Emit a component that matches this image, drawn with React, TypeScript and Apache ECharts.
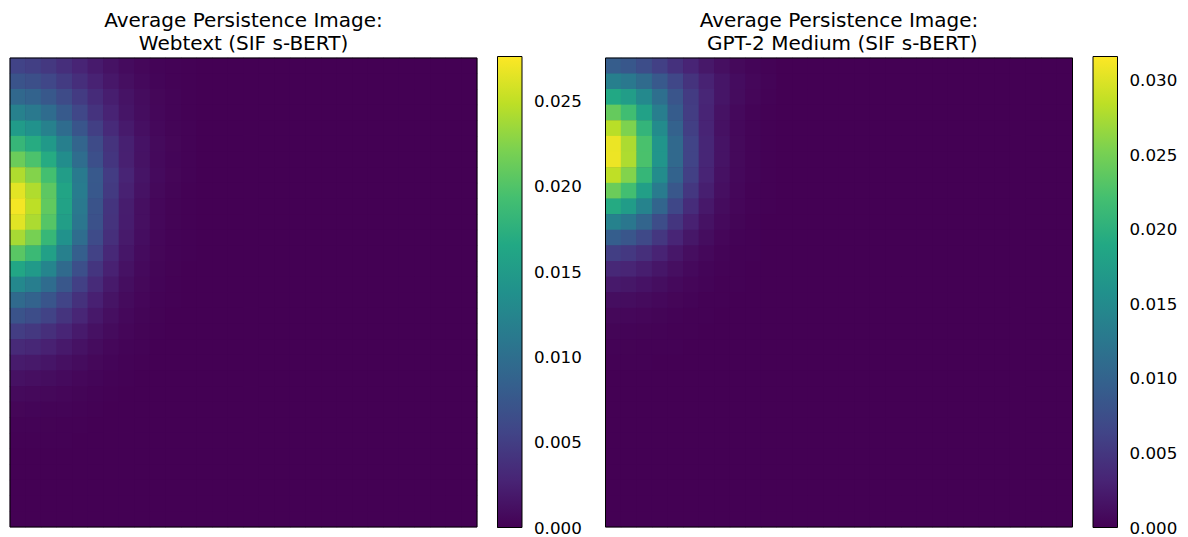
import React, { useEffect, useRef } from "react";
import * as echarts from "echarts";

// ---------- data ----------
const GRID_SIZE = 30;
const GRID_COLUMNS = Array.from({ length: GRID_SIZE }, (_, i) => String(i));
const GRID_ROWS = Array.from({ length: GRID_SIZE }, (_, i) => String(i));

const TITLE_LEFT = "Average Persistence Image:\nWebtext (SIF s-BERT)";
const TITLE_RIGHT = "Average Persistence Image:\n GPT-2 Medium (SIF s-BERT)";

const WEBTEXT_MAX = 0.0276;
const GPT2_MAX = 0.0316;
const WEBTEXT_TICKS = [0, 0.005, 0.01, 0.015, 0.02, 0.025];
const GPT2_TICKS = [0, 0.005, 0.01, 0.015, 0.02, 0.025, 0.03];

// rows from top to bottom; columns from left; cells not listed read as 0.000
const WEBTEXT_IMAGE_ROWS: number[][] = [
  [0.00546, 0.0051, 0.00446, 0.00364, 0.00278, 0.00199, 0.00133, 0.00082, 0.00049, 0.00026, 0.00014, 0.00007],
  [0.00709, 0.00663, 0.0058, 0.00473, 0.00362, 0.00258, 0.00173, 0.00107, 0.00064, 0.00034, 0.00018, 0.00009],
  [0.00928, 0.00867, 0.00758, 0.00619, 0.00473, 0.00338, 0.00226, 0.00139, 0.00083, 0.00045, 0.00023, 0.00011],
  [0.01199, 0.01116, 0.00967, 0.00778, 0.00584, 0.00408, 0.00266, 0.00159, 0.00091, 0.00047, 0.00023, 0.0001],
  [0.01496, 0.01392, 0.01206, 0.00971, 0.00729, 0.00509, 0.00332, 0.00198, 0.00113, 0.00058, 0.00029, 0.00013],
  [0.01823, 0.01696, 0.0147, 0.01183, 0.00889, 0.0062, 0.00405, 0.00241, 0.00138, 0.00071, 0.00036, 0.00016],
  [0.02129, 0.01972, 0.0169, 0.01339, 0.00985, 0.00669, 0.00424, 0.00243, 0.00133, 0.00065, 0.00031, 0.00013],
  [0.02426, 0.02247, 0.01926, 0.01526, 0.01122, 0.00762, 0.00483, 0.00277, 0.00152, 0.00074, 0.00036, 0.00015],
  [0.02643, 0.0243, 0.02061, 0.01605, 0.01153, 0.00761, 0.00465, 0.00255, 0.00134, 0.00062, 0.00028, 0.00011],
  [0.0272, 0.02486, 0.02079, 0.01587, 0.01111, 0.0071, 0.00418, 0.0022, 0.0011, 0.00048, 0.0002, 0.00007],
  [0.02641, 0.02414, 0.02019, 0.01541, 0.01079, 0.00689, 0.00406, 0.00214, 0.00107, 0.00046, 0.0002, 0.00007],
  [0.02393, 0.02188, 0.0183, 0.01396, 0.00978, 0.00624, 0.00368, 0.00194, 0.00097, 0.00042, 0.00018, 0.00007],
  [0.02037, 0.01862, 0.01557, 0.01189, 0.00832, 0.00531, 0.00313, 0.00165, 0.00082, 0.00036, 0.00015, 0.00006],
  [0.01632, 0.01492, 0.01247, 0.00952, 0.00667, 0.00426, 0.00251, 0.00132, 0.00066, 0.00029, 0.00012],
  [0.01276, 0.01166, 0.00975, 0.00744, 0.00521, 0.00333, 0.00196, 0.00103, 0.00052, 0.00022, 0.0001],
  [0.00949, 0.00868, 0.00726, 0.00554, 0.00388, 0.00248, 0.00146, 0.00077, 0.00038, 0.00017, 0.00007],
  [0.00707, 0.00646, 0.00541, 0.00413, 0.00289, 0.00184, 0.00109, 0.00057, 0.00029, 0.00012],
  [0.0049, 0.00447, 0.00374, 0.00286, 0.002, 0.00128, 0.00075, 0.0004, 0.0002, 0.00009],
  [0.00326, 0.00298, 0.00249, 0.0019, 0.00133, 0.00085, 0.0005, 0.00026, 0.00013],
  [0.00204, 0.00186, 0.00156, 0.00119, 0.00083, 0.00053, 0.00031, 0.00016, 0.00008],
  [0.00123, 0.00112, 0.00094, 0.00072, 0.0005, 0.00032, 0.00019, 0.0001],
  [0.00068, 0.00062, 0.00052, 0.0004, 0.00028, 0.00018, 0.0001],
  [0.00036, 0.00033, 0.00027, 0.00021, 0.00015, 0.00009],
  [0.00016, 0.00015, 0.00012, 0.0001, 0.00007],
  [0.00008, 0.00007, 0.00006, 0.00005],
];

const GPT2_IMAGE_ROWS: number[][] = [
  [0.00921, 0.00857, 0.00742, 0.00597, 0.00449, 0.00313, 0.00204, 0.00122, 0.0007, 0.00036, 0.00018],
  [0.01358, 0.01263, 0.01095, 0.00881, 0.00662, 0.00462, 0.00301, 0.00179, 0.00103, 0.00053, 0.00026],
  [0.01893, 0.0174, 0.01476, 0.01149, 0.00826, 0.00545, 0.00333, 0.00183, 0.00096, 0.00045, 0.0002],
  [0.02403, 0.02179, 0.01797, 0.01342, 0.00912, 0.00562, 0.00316, 0.00157, 0.00075, 0.0003, 0.00012],
  [0.02826, 0.02542, 0.02061, 0.01503, 0.00988, 0.00584, 0.00312, 0.00146, 0.00065, 0.00025, 0.00009],
  [0.03072, 0.02763, 0.02241, 0.01634, 0.01074, 0.00635, 0.00339, 0.00159, 0.00071, 0.00027, 0.0001],
  [0.03081, 0.02772, 0.02248, 0.01639, 0.01077, 0.00637, 0.0034, 0.00159, 0.00071, 0.00027, 0.0001],
  [0.02854, 0.02568, 0.02082, 0.01518, 0.00998, 0.0059, 0.00315, 0.00147, 0.00066, 0.00025, 0.00009],
  [0.02438, 0.02193, 0.01778, 0.01297, 0.00852, 0.00504, 0.00269, 0.00126, 0.00056, 0.00021, 0.00008],
  [0.01922, 0.01729, 0.01402, 0.01022, 0.00672, 0.00397, 0.00212, 0.00099, 0.00044, 0.00017, 0.00006],
  [0.01396, 0.01256, 0.01018, 0.00742, 0.00488, 0.00288, 0.00154, 0.00072, 0.00032, 0.00012],
  [0.00942, 0.00847, 0.00687, 0.00501, 0.00329, 0.00195, 0.00104, 0.00049, 0.00022, 0.00008],
  [0.00575, 0.00518, 0.0042, 0.00306, 0.00201, 0.00119, 0.00064, 0.0003, 0.00013, 0.00005],
  [0.00357, 0.00321, 0.00261, 0.0019, 0.00125, 0.00074, 0.00039, 0.00018, 0.00008],
  [0.00217, 0.00195, 0.00158, 0.00116, 0.00076, 0.00045, 0.00024, 0.00011, 0.00005],
  [0.00118, 0.00107, 0.00086, 0.00063, 0.00041, 0.00024, 0.00013, 0.00006],
  [0.00062, 0.00056, 0.00045, 0.00033, 0.00022, 0.00013, 0.00007],
  [0.00032, 0.00028, 0.00023, 0.00017, 0.00011, 0.00007],
  [0.00016, 0.00014, 0.00012, 0.00008, 0.00006],
  [0.00008, 0.00007, 0.00006],
  [0.00003, 0.00003],
];

// ---------- styles ----------
const VIRIDIS = [
  "#440154", "#482475", "#414487", "#355f8d", "#2a788e", "#21918c",
  "#22a884", "#44bf70", "#7ad151", "#bddf26", "#fde725",
];
const FONT = "DejaVu Sans";

function toCells(rows: number[][]) {
  const out: [number, number, number][] = [];
  for (let r = 0; r < GRID_SIZE; r++) {
    const row = rows[r] || [];
    for (let c = 0; c < GRID_SIZE; c++) {
      out.push([c, r, row[c] ?? 0]);
    }
  }
  return out;
}

const PANELS = [
  { left: 10, top: 58, width: 467, height: 469, cbLeft: 497.5 },
  { left: 605.5, top: 58, width: 467, height: 469, cbLeft: 1093 },
];
const CB = { top: 56.5, width: 24.5, height: 471 };

export default function App() {
  const ref = useRef<HTMLDivElement>(null);

  useEffect(() => {
    if (!ref.current) return;
    const chart = echarts.init(ref.current, undefined, { renderer: "svg" });

    const titles = [TITLE_LEFT, TITLE_RIGHT];
    const maxes = [WEBTEXT_MAX, GPT2_MAX];
    const ticks = [WEBTEXT_TICKS, GPT2_TICKS];
    const images = [WEBTEXT_IMAGE_ROWS, GPT2_IMAGE_ROWS];

    const gradient = {
      type: "linear",
      x: 0,
      y: 1,
      x2: 0,
      y2: 0,
      colorStops: VIRIDIS.map((c, i) => ({ offset: i / (VIRIDIS.length - 1), color: c })),
    };

    const option: any = {
      animation: false,
      backgroundColor: "#ffffff",
      title: PANELS.map((p, i) => ({
        text: titles[i],
        left: p.left + p.width / 2,
        top: 8,
        padding: 0,
        textAlign: "center",
        textStyle: {
          fontFamily: FONT,
          fontSize: 20,
          fontWeight: "normal",
          color: "#000",
          lineHeight: 23,
        },
      })),
      grid: [
        ...PANELS.map((p) => ({
          left: p.left,
          top: p.top,
          width: p.width,
          height: p.height,
          show: true,
          backgroundColor: "#440154",
          borderWidth: 0,
          containLabel: false,
        })),
        ...PANELS.map((p) => ({
          left: p.cbLeft,
          top: CB.top,
          width: CB.width,
          height: CB.height,
          show: false,
          containLabel: false,
        })),
      ],
      xAxis: [
        ...PANELS.map((_, i) => ({
          type: "category",
          gridIndex: i,
          data: GRID_COLUMNS,
          show: false,
        })),
        ...PANELS.map((_, i) => ({
          type: "value",
          gridIndex: 2 + i,
          min: 0,
          max: 1,
          show: false,
        })),
      ],
      yAxis: [
        ...PANELS.map((_, i) => ({
          type: "category",
          gridIndex: i,
          data: GRID_ROWS,
          inverse: true,
          show: false,
        })),
        ...PANELS.map((_, i) => ({
          type: "value",
          gridIndex: 2 + i,
          min: 0,
          max: maxes[i],
          position: "right",
          axisLine: { show: false },
          splitLine: { show: false },
          axisTick: {
            show: true,
            length: 5,
            lineStyle: { color: "#000", width: 1 },
            customValues: ticks[i],
          },
          axisLabel: {
            customValues: ticks[i],
            formatter: (v: number) => v.toFixed(3),
            margin: 12,
            fontSize: 16.7,
            fontFamily: FONT,
            color: "#000",
          },
        })),
      ],
      visualMap: PANELS.map((_, i) => ({
        type: "continuous",
        seriesIndex: i,
        min: 0,
        max: maxes[i],
        show: false,
        inRange: { color: VIRIDIS },
      })),
      series: PANELS.map((_, i) => ({
        type: "heatmap",
        xAxisIndex: i,
        yAxisIndex: i,
        data: toCells(images[i]),
        progressive: 0,
        itemStyle: { borderWidth: 0 },
        emphasis: { disabled: true },
      })),
      graphic: [
        ...PANELS.map((p) => ({
          type: "rect",
          z: 100,
          silent: true,
          shape: { x: p.left, y: p.top, width: p.width, height: p.height },
          style: { fill: "none", stroke: "#000", lineWidth: 1 },
        })),
        ...PANELS.map((p) => ({
          type: "rect",
          z: 90,
          silent: true,
          shape: { x: p.cbLeft, y: CB.top, width: CB.width, height: CB.height },
          style: { fill: gradient, stroke: "#000", lineWidth: 1 },
        })),
      ],
    };

    chart.setOption(option);
    return () => chart.dispose();
  }, []);

  return (
    <div
      ref={ref}
      style={{ position: "absolute", left: 0, top: 0, width: 1188, height: 537 }}
    />
  );
}
